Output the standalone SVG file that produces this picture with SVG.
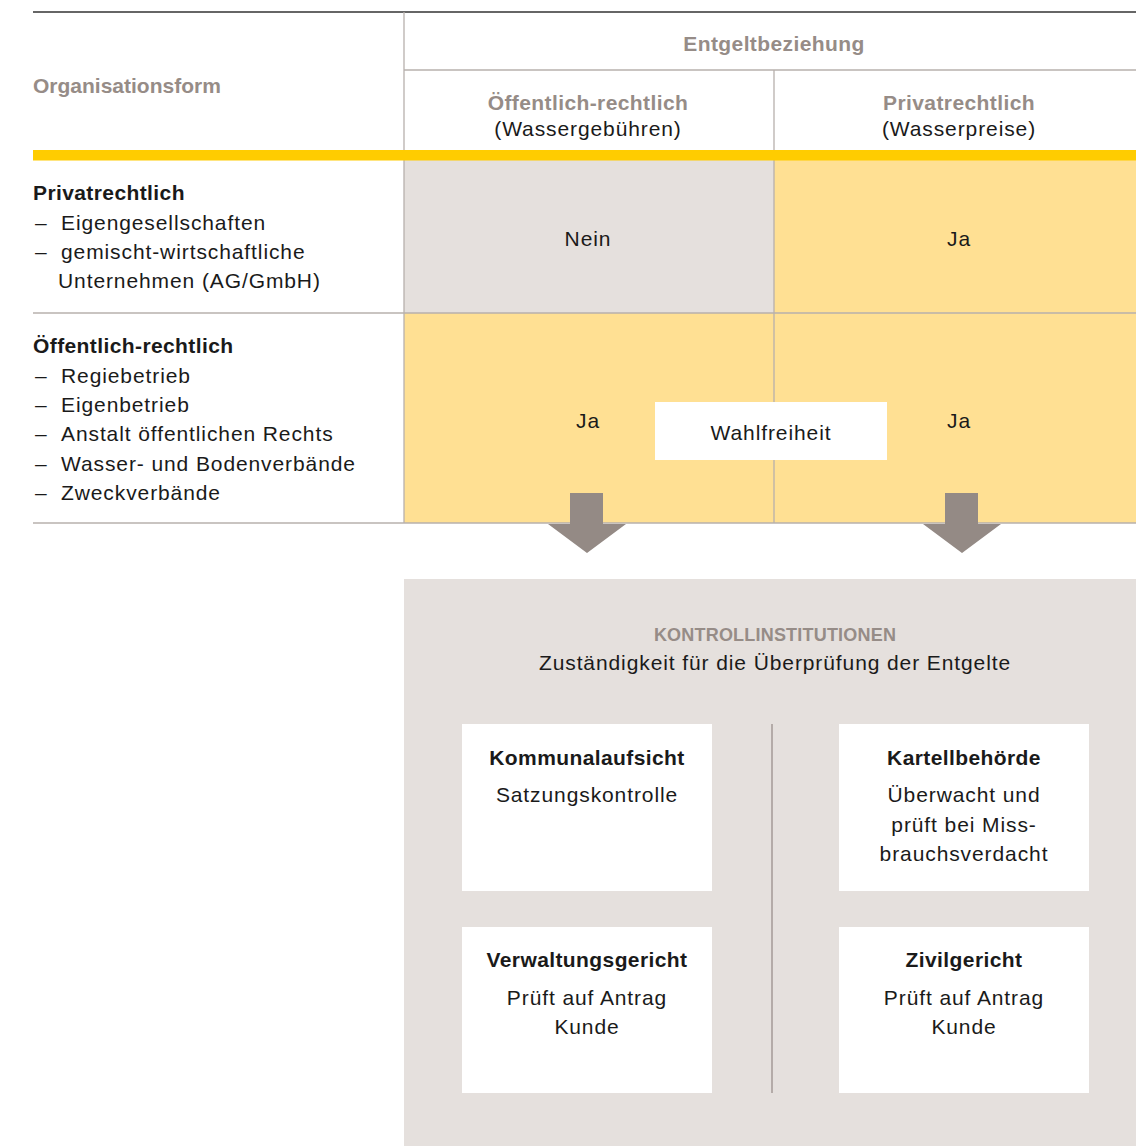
<svg xmlns="http://www.w3.org/2000/svg" width="1136" height="1146" viewBox="0 0 1136 1146">
<style>
text{font-family:"Liberation Sans",Arial,sans-serif;fill:#1a1a1a}
.reg{font-size:21px;letter-spacing:0.9px}
.b{font-size:21px;font-weight:bold;letter-spacing:0.4px}
.g{fill:#968c87}
.c{text-anchor:middle}
.caps{font-size:18px;font-weight:bold;fill:#968c87;text-anchor:middle;letter-spacing:0.2px}
.grid{stroke:#b7b0ac;stroke-width:1.3;fill:none}
.box{fill:#ffffff}
.arrow{fill:#948a85}
</style>
<rect width="1136" height="1146" fill="#ffffff"/>
<g id="table-cells">
<rect x="404" y="160" width="370" height="153" fill="#e5e0dd"/>
<rect x="774" y="160" width="362" height="153" fill="#ffe093"/>
<rect x="404" y="313" width="370" height="210" fill="#ffe093"/>
<rect x="774" y="313" width="362" height="210" fill="#ffe093"/>
</g>
<g id="table-lines">
<line x1="33" y1="12" x2="1136" y2="12" stroke="#333333" stroke-width="1.5"/>
<line class="grid" x1="404" y1="12" x2="404" y2="523"/>
<line class="grid" x1="404" y1="70" x2="1136" y2="70"/>
<line class="grid" x1="774" y1="70" x2="774" y2="523"/>
<line class="grid" x1="33" y1="313" x2="1136" y2="313"/>
<line class="grid" x1="33" y1="523" x2="1136" y2="523"/>
<rect x="33" y="150" width="1103" height="10.5" fill="#ffcc00"/>
</g>
<g id="header-organisationsform">
<text class="b g" x="33" y="93" style="letter-spacing:0">Organisationsform</text>
</g>
<g id="header-entgeltbeziehung">
<text class="b g c" x="774" y="51">Entgeltbeziehung</text>
</g>
<g id="header-oeffentlich">
<text class="b g c" x="588" y="110">Öffentlich-rechtlich</text>
<text class="reg c" x="588" y="136">(Wassergebühren)</text>
</g>
<g id="header-privat">
<text class="b g c" x="959" y="110">Privatrechtlich</text>
<text class="reg c" x="959" y="136">(Wasserpreise)</text>
</g>
<g id="row-privatrechtlich">
<text class="b" x="33" y="200">Privatrechtlich</text>
<text class="reg" x="35" y="230">–</text><text class="reg" x="61" y="230">Eigengesellschaften</text>
<text class="reg" x="35" y="259">–</text><text class="reg" x="61" y="259">gemischt-wirtschaftliche</text>
<text class="reg" x="58" y="288">Unternehmen (AG/GmbH)</text>
</g>
<g id="row-oeffentlich">
<text class="b" x="33" y="353">Öffentlich-rechtlich</text>
<text class="reg" x="35" y="383">–</text><text class="reg" x="61" y="383">Regiebetrieb</text>
<text class="reg" x="35" y="412">–</text><text class="reg" x="61" y="412">Eigenbetrieb</text>
<text class="reg" x="35" y="441">–</text><text class="reg" x="61" y="441">Anstalt öffentlichen Rechts</text>
<text class="reg" x="35" y="471">–</text><text class="reg" x="61" y="471">Wasser- und Bodenverbände</text>
<text class="reg" x="35" y="500">–</text><text class="reg" x="61" y="500">Zweckverbände</text>
</g>
<g id="cell-nein">
<text class="reg c" x="588" y="246">Nein</text>
</g>
<g id="cell-ja-1">
<text class="reg c" x="959" y="246">Ja</text>
</g>
<g id="cell-ja-2">
<text class="reg c" x="588" y="428">Ja</text>
</g>
<g id="cell-ja-3">
<text class="reg c" x="959" y="428">Ja</text>
</g>
<g id="wahlfreiheit">
<rect class="box" x="655" y="402" width="232" height="58"/>
<text class="reg c" x="771" y="440">Wahlfreiheit</text>
</g>
<g id="connectors">
<polygon class="arrow" points="570,493 603,493 603,524 626,524 587,553 548,524 570,524"/>
<polygon class="arrow" points="945,493 978,493 978,524 1001,524 962,553 923,524 945,524"/>
</g>
<g id="kontrollinstitutionen">
<rect x="404" y="579" width="732" height="567" fill="#e5e0dd"/>
<text class="caps" x="775" y="641">KONTROLLINSTITUTIONEN</text>
<text class="reg c" x="775" y="670">Zuständigkeit für die Überprüfung der Entgelte</text>
<line x1="772" y1="724" x2="772" y2="1093" stroke="#a39a96" stroke-width="1.5"/>
</g>
<g id="kommunalaufsicht">
<rect class="box" x="462" y="724" width="250" height="167"/>
<text class="b c" x="587" y="765">Kommunalaufsicht</text>
<text class="reg c" x="587" y="802">Satzungskontrolle</text>
</g>
<g id="kartellbehoerde">
<rect class="box" x="839" y="724" width="250" height="167"/>
<text class="b c" x="964" y="765">Kartellbehörde</text>
<text class="reg c" x="964" y="802">Überwacht und</text>
<text class="reg c" x="964" y="832">prüft bei Miss-</text>
<text class="reg c" x="964" y="861">brauchsverdacht</text>
</g>
<g id="verwaltungsgericht">
<rect class="box" x="462" y="927" width="250" height="166"/>
<text class="b c" x="587" y="967">Verwaltungsgericht</text>
<text class="reg c" x="587" y="1005">Prüft auf Antrag</text>
<text class="reg c" x="587" y="1034">Kunde</text>
</g>
<g id="zivilgericht">
<rect class="box" x="839" y="927" width="250" height="166"/>
<text class="b c" x="964" y="967">Zivilgericht</text>
<text class="reg c" x="964" y="1005">Prüft auf Antrag</text>
<text class="reg c" x="964" y="1034">Kunde</text>
</g>
</svg>
